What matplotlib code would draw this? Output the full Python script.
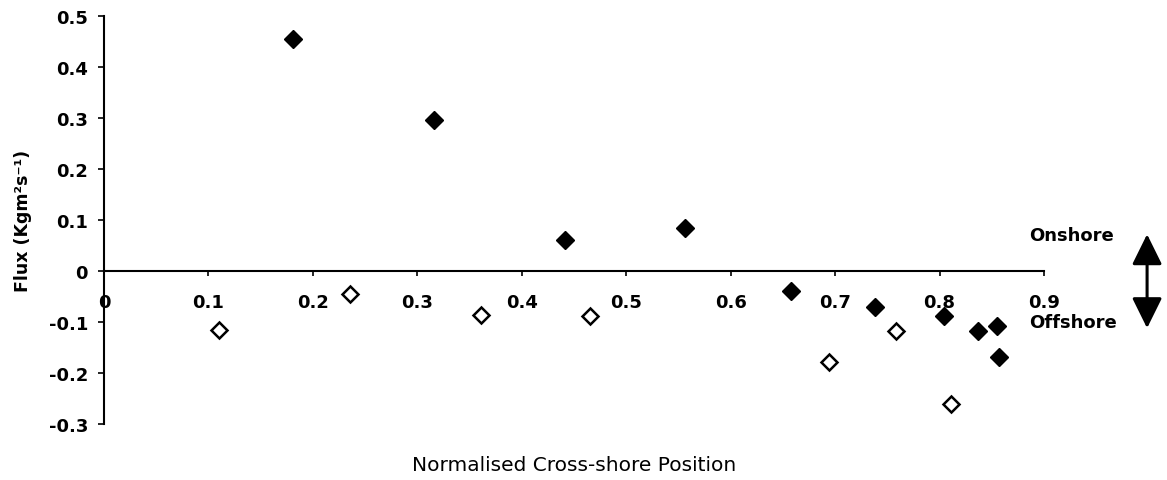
import matplotlib
matplotlib.use("Agg")
import matplotlib.pyplot as plt

# Data
onshore_x = [0.181, 0.316, 0.441, 0.556, 0.658, 0.738, 0.804, 0.837, 0.855, 0.857]
onshore_y = [0.455, 0.297, 0.061, 0.084, -0.039, -0.071, -0.088, -0.117, -0.107, -0.168]
open_x = [0.110, 0.236, 0.361, 0.465, 0.694, 0.758, 0.811]
open_y = [-0.115, -0.045, -0.086, -0.089, -0.179, -0.117, -0.261]

x_ticks = [0, 0.1, 0.2, 0.3, 0.4, 0.5, 0.6, 0.7, 0.8, 0.9]
x_tick_labels = ["0", "0.1", "0.2", "0.3", "0.4", "0.5", "0.6", "0.7", "0.8", "0.9"]
y_ticks = [-0.3, -0.2, -0.1, 0, 0.1, 0.2, 0.3, 0.4, 0.5]
y_tick_labels = ["-0.3", "-0.2", "-0.1", "0", "0.1", "0.2", "0.3", "0.4", "0.5"]

plt.rcParams['font.family'] = ['DejaVu Sans']
plt.rcParams['axes.unicode_minus'] = False

fig = plt.figure(figsize=(11.67, 4.81), dpi=100)
ax = fig.add_axes([104/1167, 1-425/481, 940/1167, 408/481])

ax.plot(onshore_x, onshore_y, linestyle='none', marker='D', ms=9.0,
        mfc='black', mec='black', mew=1.0, clip_on=False)
ax.plot(open_x, open_y, linestyle='none', marker='D', ms=8.5,
        mfc='white', mec='black', mew=1.8, clip_on=False)

ax.set_xlim(0, 0.9)
ax.set_ylim(-0.3, 0.5)

for s in ['top', 'right']:
    ax.spines[s].set_visible(False)
ax.spines['bottom'].set_position(('data', 0))
ax.spines['bottom'].set_linewidth(1.5)
ax.spines['left'].set_linewidth(1.5)

ax.set_xticks(x_ticks)
ax.set_xticklabels(x_tick_labels, fontsize=13, fontweight='bold')
ax.set_yticks(y_ticks)
ax.set_yticklabels(y_tick_labels, fontsize=13, fontweight='bold')
ax.tick_params(axis='x', direction='out', length=3.5, width=1.2, pad=12)
ax.tick_params(axis='y', direction='out', length=4.5, width=1.2, pad=7)

ax.set_xlabel("Normalised Cross-shore Position", fontsize=14.5)
ax.xaxis.set_label_coords(0.5, -0.075)
ax.set_ylabel("Flux (Kgm²s⁻¹)", fontsize=12.5, fontweight='bold')
ax.yaxis.set_label_coords(-0.077, 0.5)

# Onshore / Offshore annotation
ax.text(0.886, 0.071, "Onshore", fontsize=13, fontweight='bold',
        ha='left', va='center', clip_on=False)
ax.text(0.886, -0.10, "Offshore", fontsize=13, fontweight='bold',
        ha='left', va='center', clip_on=False)
ax.annotate("", xy=(0.9987, 0.072), xytext=(0.9987, -0.112),
            xycoords='data', textcoords='data',
            arrowprops=dict(arrowstyle='<|-|>,head_length=0.85,head_width=0.42',
                            mutation_scale=22, lw=2.2, color='black',
                            shrinkA=0, shrinkB=0),
            annotation_clip=False)

fig.savefig("out.png", dpi=100)
